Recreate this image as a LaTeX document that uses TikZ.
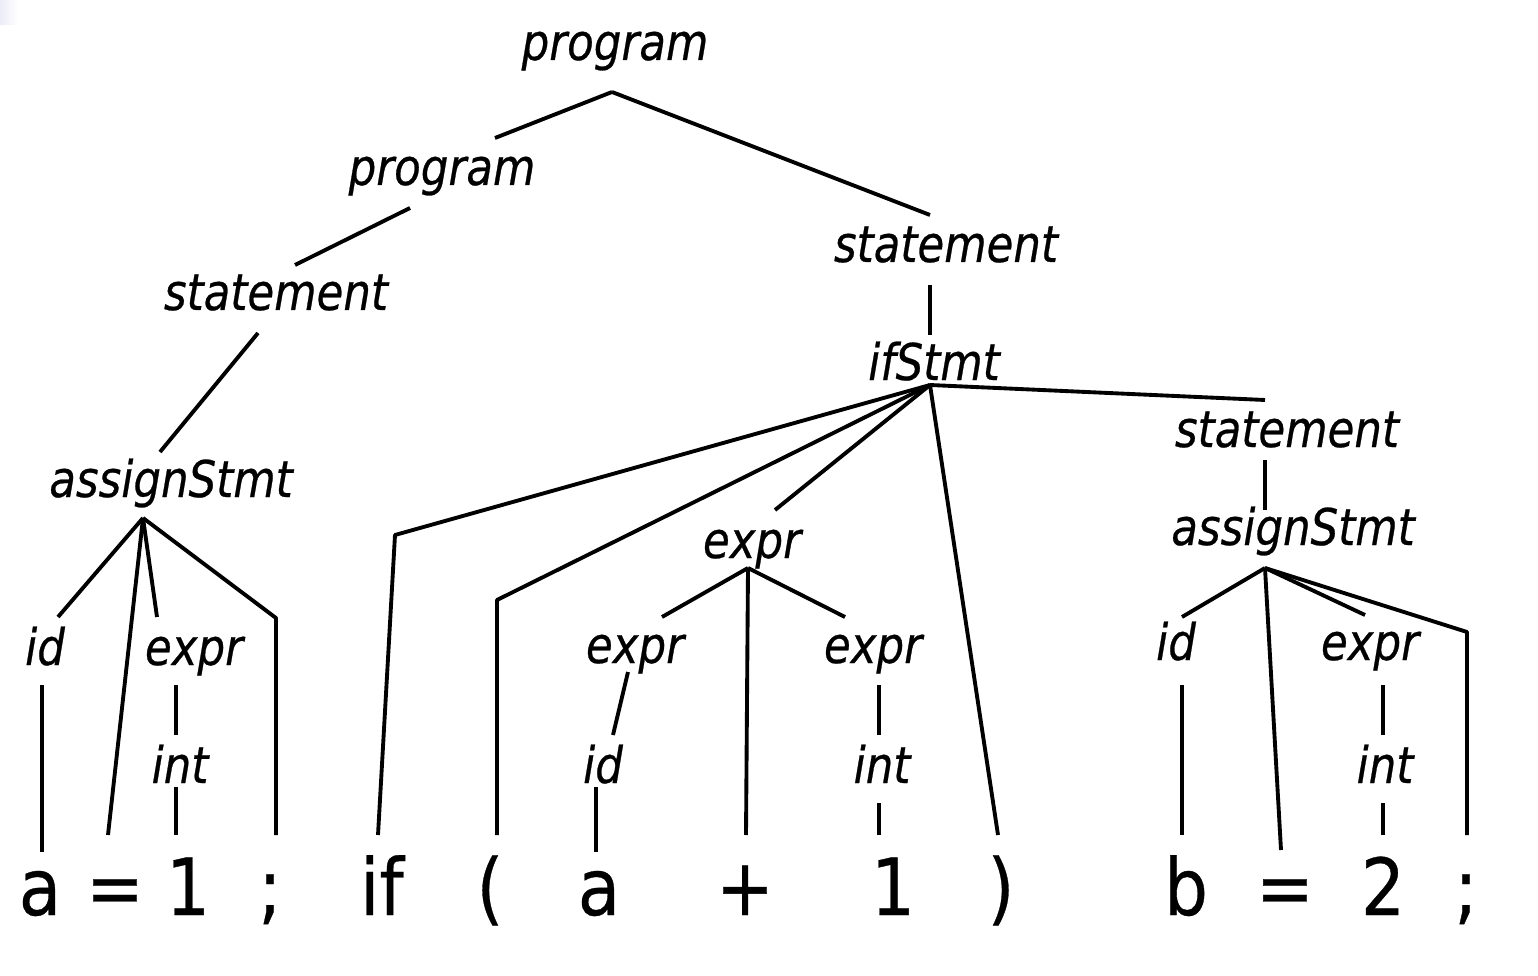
\documentclass[tikz,border=0pt]{standalone}
\usepackage{fontspec}
\newfontfamily\labfont[FakeStretch=0.86,FakeBold=0.5]{DejaVu Sans}
\newfontfamily\tokfont[FakeStretch=0.88,FakeBold=0.4]{DejaVu Sans}
\definecolor{cornertint}{HTML}{ECECF8}
\begin{document}
\begin{tikzpicture}[x=0.02cm,y=-0.02cm,
  lab/.style={anchor=base,inner sep=0pt,font=\labfont\itshape\fontsize{28.8pt}{30pt}\selectfont},
  tok/.style={anchor=base,inner sep=0pt,font=\tokfont\fontsize{44.8pt}{46pt}\selectfont},
  edge/.style={line width=2.2pt,line join=round}]
\useasboundingbox (0,0) rectangle (1538,976);
\shade[left color=cornertint,right color=white] (0,0) rectangle (18,25);
% labels
\node[lab] (prog1) at (615,60) {program};
\node[lab] (prog2) at (442,185) {program};
\node[lab] (stl) at (276,310) {statement};
\node[lab] (asl) at (171,497) {assignStmt};
\node[lab] (idL) at (45,665) {id};
\node[lab] (exL) at (194,665) {expr};
\node[lab] (intL) at (180,783) {int};
\node[lab] (str) at (946,262) {statement};
\node[lab] (ifs) at (934,380) {ifStmt};
\node[lab] (exm) at (752,558) {expr};
\node[lab] (exl) at (635,663) {expr};
\node[lab] (exr) at (873,663) {expr};
\node[lab] (idm) at (603,783) {id};
\node[lab] (intm) at (882,783) {int};
\node[lab] (strr) at (1287,447) {statement};
\node[lab] (asr) at (1293,545) {assignStmt};
\node[lab] (idr) at (1176,660) {id};
\node[lab] (exR) at (1370,660) {expr};
\node[lab] (intR) at (1385,783) {int};
% tokens
\node[tok] (ta1) at (40,915) {a};
\node[tok] (teq1) at (115,915) {=};
\node[tok] (tone1) at (188,915) {1};
\node[tok] (tsc1) at (270,915) {;};
\node[tok] (tif) at (382,915) {if};
\node[tok] (tlp) at (490,915) {(};
\node[tok] (ta2) at (599,915) {a};
\node[tok] (tplus) at (745,915) {+};
\node[tok] (tone2) at (893,915) {1};
\node[tok] (trp) at (1001,915) {)};
\node[tok] (tb) at (1186,915) {b};
\node[tok] (teq2) at (1285,915) {=};
\node[tok] (ttwo) at (1383,915) {2};
\node[tok] (tsc2) at (1466,915) {;};
% bend points
\coordinate (bsc1) at (276,618);
\coordinate (bif) at (395,535);
\coordinate (blp) at (497,600);
\coordinate (bsc2) at (1467,632);
% connectors
\draw[edge] ([shift={(-3,32)}]prog1.base) -- ([shift={(53,-47)}]prog2.base);
\draw[edge] ([shift={(-3,32)}]prog1.base) -- ([shift={(-16,-47)}]str.base);
\draw[edge] ([shift={(-32,23)}]prog2.base) -- ([shift={(19,-45)}]stl.base);
\draw[edge] ([shift={(-18,23)}]stl.base) -- ([shift={(-11,-45)}]asl.base);
\draw[edge] ([shift={(-28,21)}]asl.base) -- ([shift={(13,-48)}]idL.base);
\draw[edge] ([shift={(-28,21)}]asl.base) -- ([shift={(-7,-80)}]teq1.base);
\draw[edge] ([shift={(-28,21)}]asl.base) -- ([shift={(-37,-48)}]exL.base);
\draw[edge] ([shift={(-28,21)}]asl.base) -- (bsc1) -- ([shift={(6,-80)}]tsc1.base);
\draw[edge] ([shift={(-3,20)}]idL.base) -- ([shift={(2,-63)}]ta1.base);
\draw[edge] ([shift={(-18,20)}]exL.base) -- ([shift={(-4,-48)}]intL.base);
\draw[edge] ([shift={(-4,4)}]intL.base) -- ([shift={(-12,-80)}]tone1.base);
\draw[edge] ([shift={(-16,23)}]str.base) -- ([shift={(-4,-45)}]ifs.base);
\draw[edge] ([shift={(-4,5)}]ifs.base) -- (bif) -- ([shift={(-4,-80)}]tif.base);
\draw[edge] ([shift={(-4,5)}]ifs.base) -- (blp) -- ([shift={(7,-80)}]tlp.base);
\draw[edge] ([shift={(-4,5)}]ifs.base) -- ([shift={(23,-48)}]exm.base);
\draw[edge] ([shift={(-4,5)}]ifs.base) -- ([shift={(-3,-80)}]trp.base);
\draw[edge] ([shift={(-4,5)}]ifs.base) -- ([shift={(-22,-47)}]strr.base);
\draw[edge] ([shift={(-4,10)}]exm.base) -- ([shift={(27,-46)}]exl.base);
\draw[edge] ([shift={(-4,10)}]exm.base) -- ([shift={(1,-80)}]tplus.base);
\draw[edge] ([shift={(-4,10)}]exm.base) -- ([shift={(-28,-46)}]exr.base);
\draw[edge] ([shift={(-7,9)}]exl.base) -- ([shift={(10,-48)}]idm.base);
\draw[edge] ([shift={(-7,4)}]idm.base) -- ([shift={(-3,-63)}]ta2.base);
\draw[edge] ([shift={(6,22)}]exr.base) -- ([shift={(-3,-48)}]intm.base);
\draw[edge] ([shift={(-3,20)}]intm.base) -- ([shift={(-14,-80)}]tone2.base);
\draw[edge] ([shift={(-22,13)}]strr.base) -- ([shift={(-28,-35)}]asr.base);
\draw[edge] ([shift={(-28,23)}]asr.base) -- ([shift={(6,-43)}]idr.base);
\draw[edge] ([shift={(-28,23)}]asr.base) -- ([shift={(-4,-65)}]teq2.base);
\draw[edge] ([shift={(-28,23)}]asr.base) -- ([shift={(-5,-45)}]exR.base);
\draw[edge] ([shift={(-28,23)}]asr.base) -- (bsc2) -- ([shift={(1,-80)}]tsc2.base);
\draw[edge] ([shift={(6,25)}]idr.base) -- ([shift={(-4,-80)}]tb.base);
\draw[edge] ([shift={(13,25)}]exR.base) -- ([shift={(-2,-48)}]intR.base);
\draw[edge] ([shift={(-2,20)}]intR.base) -- ([shift={(0,-80)}]ttwo.base);
\end{tikzpicture}
\end{document}
